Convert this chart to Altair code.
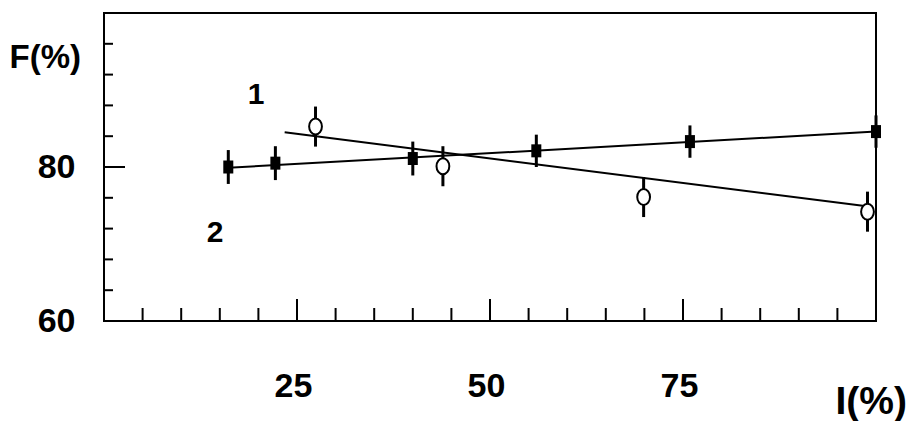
import altair as alt
import pandas as pd

# ---- data ----
sq_x = [16.1, 22.2, 40.0, 56.0, 75.9, 100.0]
sq_y = [80.0, 80.5, 81.1, 82.1, 83.3, 84.6]
sq_err = [2.2, 2.2, 2.2, 2.1, 2.1, 2.1]

circ_x = [27.4, 43.9, 69.9, 98.9]
circ_y = [85.25, 80.1, 76.1, 74.2]
circ_err = [2.6, 2.6, 2.6, 2.6]

fit1_x = [16.1, 100.0]
fit1_y = [79.9, 84.6]
fit2_x = [23.4, 98.8]
fit2_y = [84.5, 74.9]

x_labels = [25, 50, 75]
x_major = [25, 50, 75]
x_minor = [5, 10, 15, 20, 30, 35, 40, 45, 55, 60, 65, 70, 80, 85, 90, 95]
y_labels = [60, 80]
y_major = [80]
y_minor = [64, 68, 72, 76, 84, 88, 92, 96]

curve_names = ["1", "2"]
curve_name_x = [19.7, 14.4]
curve_name_y = [89.3, 71.4]

# ---- layout / style ----
W, H = 772, 308
FONT = "Liberation Sans, Arial, sans-serif"

xs = alt.Scale(domain=[0, 100], nice=False, zero=False)
ys = alt.Scale(domain=[60, 100], nice=False, zero=False)

xaxis = alt.Axis(values=x_labels, ticks=False, tickSize=0, domain=False, grid=False,
                 labelFont=FONT, labelFontWeight="bold", labelFontSize=34,
                 labelColor="black", labelPadding=48, labelOffset=-4, labelFlush=False,
                 labelOverlap=False,
                 title="I(%)", titleFont=FONT, titleFontWeight="bold", titleFontSize=39,
                 titleColor="black", titleX=731, titleY=92, titleAlign="left",
                 titleBaseline="alphabetic")
yaxis = alt.Axis(values=y_labels, ticks=False, tickSize=0, domain=False, grid=False,
                 labelFont=FONT, labelFontWeight="bold", labelFontSize=34,
                 labelColor="black", labelPadding=29, labelFlush=False, labelOverlap=False,
                 title="F(%)", titleFont=FONT, titleFontWeight="bold", titleFontSize=33,
                 titleColor="black", titleX=-95, titleY=54, titleAngle=0,
                 titleAlign="left", titleBaseline="alphabetic")

def X(f):
    return alt.X(f, type="quantitative", scale=xs, axis=xaxis)

def Y(f):
    return alt.Y(f, type="quantitative", scale=ys, axis=yaxis)

fits = pd.DataFrame({
    "x": fit1_x + fit2_x,
    "y": fit1_y + fit2_y,
    "s": ["1"] * len(fit1_x) + ["2"] * len(fit2_x),
})
sq = pd.DataFrame({"x": sq_x, "y": sq_y, "err": sq_err})
sq["lo"] = sq["y"] - sq["err"]
sq["hi"] = sq["y"] + sq["err"]
ci = pd.DataFrame({"x": circ_x, "y": circ_y, "err": circ_err})
ci["lo"] = ci["y"] - ci["err"]
ci["hi"] = ci["y"] + ci["err"]

SQUARE = "M-0.77,-1 L0.77,-1 L0.77,1 L-0.77,1 Z"
ELLIPSE = "M0,-1 A0.8,1 0 1,1 0,1 A0.8,1 0 1,1 0,-1 Z"

lines = alt.Chart(fits).mark_line(color="black", strokeWidth=2).encode(
    x=X("x"), y=Y("y"), detail="s:N")

sq_err_rules = alt.Chart(sq).mark_rule(color="black", strokeWidth=3).encode(
    x=X("x"), y=Y("lo"), y2="hi")
ci_err_rules = alt.Chart(ci).mark_rule(color="black", strokeWidth=3).encode(
    x=X("x"), y=Y("lo"), y2="hi")

squares = alt.Chart(sq).mark_point(shape=SQUARE, size=169, filled=True, fill="black",
                                   strokeWidth=0, opacity=1).encode(x=X("x"), y=Y("y"))
circles = alt.Chart(ci).mark_point(shape=ELLIPSE, size=256, filled=True, fill="white",
                                   stroke="black", strokeWidth=2, opacity=1).encode(
    x=X("x"), y=Y("y"))

xt_min = alt.Chart(pd.DataFrame({"x": x_minor})).mark_rule(color="black", strokeWidth=2).encode(
    x=X("x"), y=alt.value(H), y2=alt.value(H - 13))
xt_maj = alt.Chart(pd.DataFrame({"x": x_major})).mark_rule(color="black", strokeWidth=2).encode(
    x=X("x"), y=alt.value(H), y2=alt.value(H - 22))
yt_min = alt.Chart(pd.DataFrame({"y": y_minor})).mark_rule(color="black", strokeWidth=2).encode(
    y=Y("y"), x=alt.value(0), x2=alt.value(9))
yt_maj = alt.Chart(pd.DataFrame({"y": y_major})).mark_rule(color="black", strokeWidth=2).encode(
    y=Y("y"), x=alt.value(0), x2=alt.value(21))

names = alt.Chart(pd.DataFrame({"x": curve_name_x, "y": curve_name_y, "t": curve_names})).mark_text(
    font=FONT, fontSize=30, fontWeight="bold", color="black", baseline="middle", align="center"
).encode(x=X("x"), y=Y("y"), text="t:N")

chart = alt.layer(
    xt_min, xt_maj, yt_min, yt_maj,
    lines, sq_err_rules, ci_err_rules, squares, circles, names
).properties(
    width=W, height=H,
    padding={"left": 96, "top": 5, "right": 32, "bottom": 100},
    autosize=alt.AutoSizeParams(type="none"),
    background="white",
).configure_view(stroke="black", strokeWidth=2)

chart.save("out.html", embed_options={"renderer": "svg", "actions": False})
